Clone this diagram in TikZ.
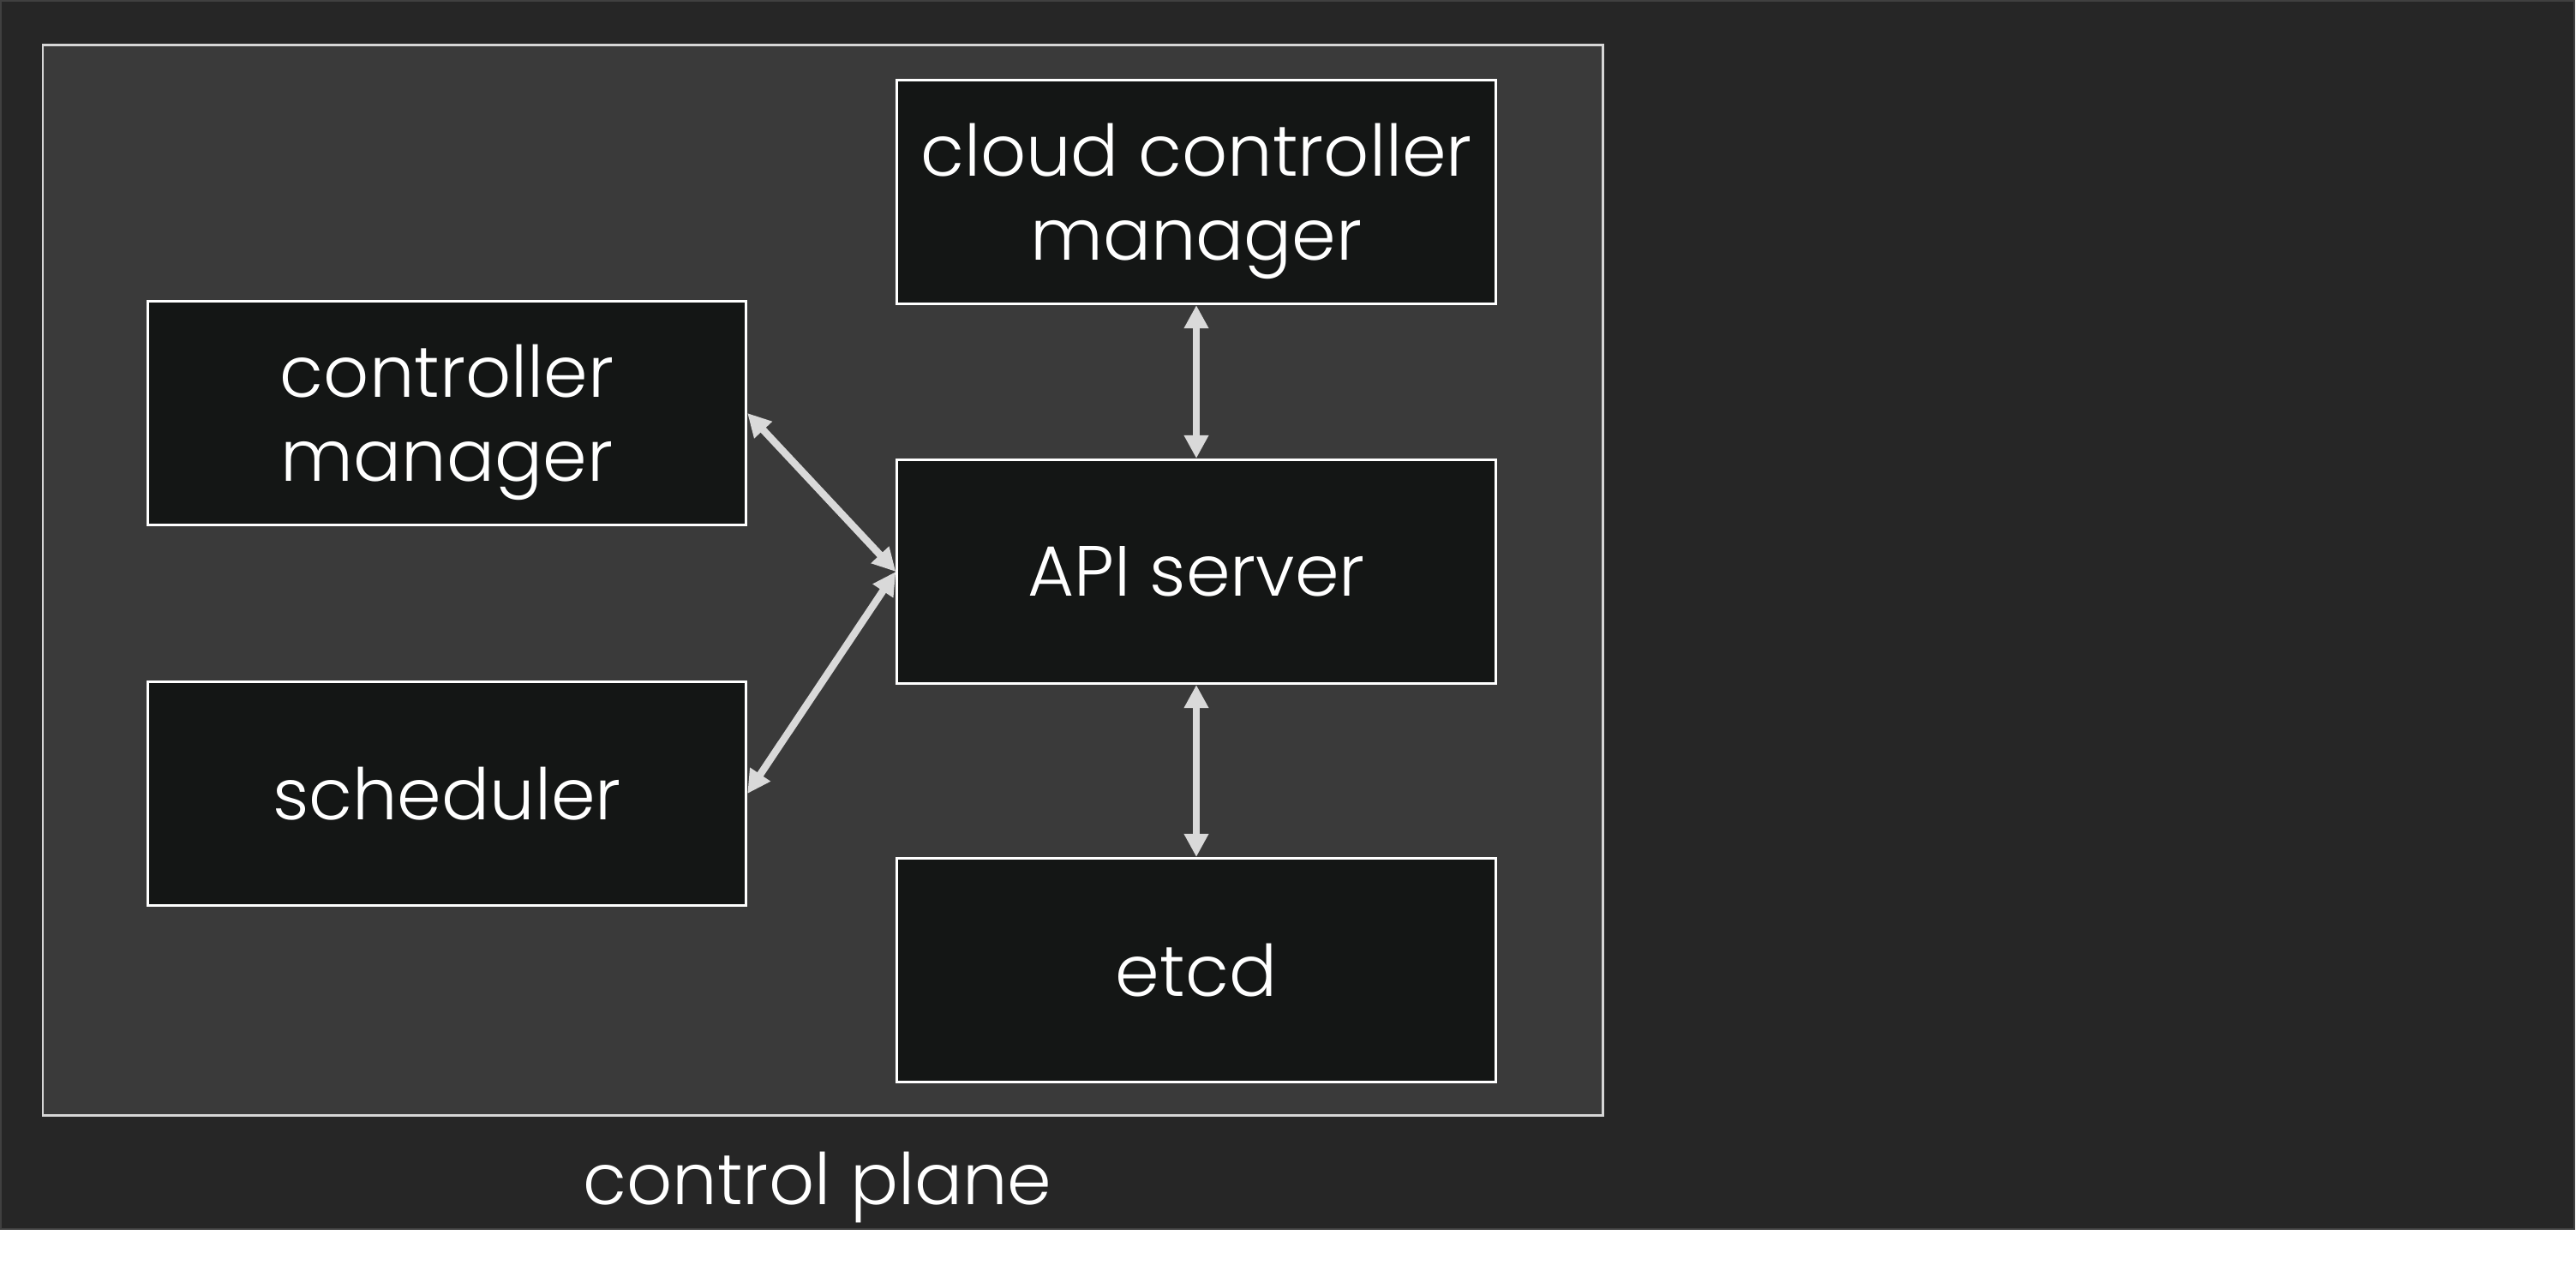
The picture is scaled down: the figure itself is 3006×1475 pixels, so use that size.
\documentclass[tikz,border=0pt]{standalone}
\usepackage{fontspec}
\setmainfont{Poppins}[UprightFont=* Light]
\usetikzlibrary{arrows.meta}
\definecolor{outerbg}{HTML}{262626}
\definecolor{outerline}{HTML}{404040}
\definecolor{planebg}{HTML}{3A3A3A}
\definecolor{planeline}{HTML}{D6D6D6}
\definecolor{boxbg}{HTML}{141615}
\definecolor{arrowcol}{HTML}{D9D9D9}
\tikzset{
  compbox/.style={draw=white, line width=0.85pt, fill=boxbg, text=white,
    minimum width=6.98cm, minimum height=2.61cm, inner sep=0pt,
    align=center, font=\fontsize{23.6}{28}\selectfont},
  twoline/.style={text depth=0pt},
  link/.style={draw=arrowcol, line width=2.4pt,
    {Triangle[length=0.27cm,width=0.27cm]}-{Triangle[length=0.27cm,width=0.27cm]}},
}
\begin{document}
\begin{tikzpicture}[x=0.01cm,y=-0.01cm]
\useasboundingbox (0,0) rectangle (3006,1475);
\fill[white] (0,0) rectangle (3006,1475);
\filldraw[fill=outerbg, draw=outerline, line width=0.6pt] (1,1) rectangle (3004,1434);
\filldraw[fill=planebg, draw=planeline, line width=0.85pt] (50,52) rectangle (1870,1301);
\node[compbox, twoline] (ccm) at (1396,224) {cloud controller\\manager};
\node[compbox, twoline] (cm) at (521.5,482) {controller\\manager};
\node[compbox] (api) at (1396,667) {API server};
\node[compbox] (sched) at (521.5,926) {scheduler};
\node[compbox] (etcd) at (1396,1132) {etcd};
\node[text=white, font=\fontsize{23.6}{28}\selectfont, anchor=base] (label) at (954,1405) {control plane};
\draw[link] (ccm.south) -- (api.north);
\draw[link] (api.south) -- (etcd.north);
\draw[link] (cm.east) -- (api.west);
\draw[link] (sched.east) -- (api.west);
\end{tikzpicture}
\end{document}
